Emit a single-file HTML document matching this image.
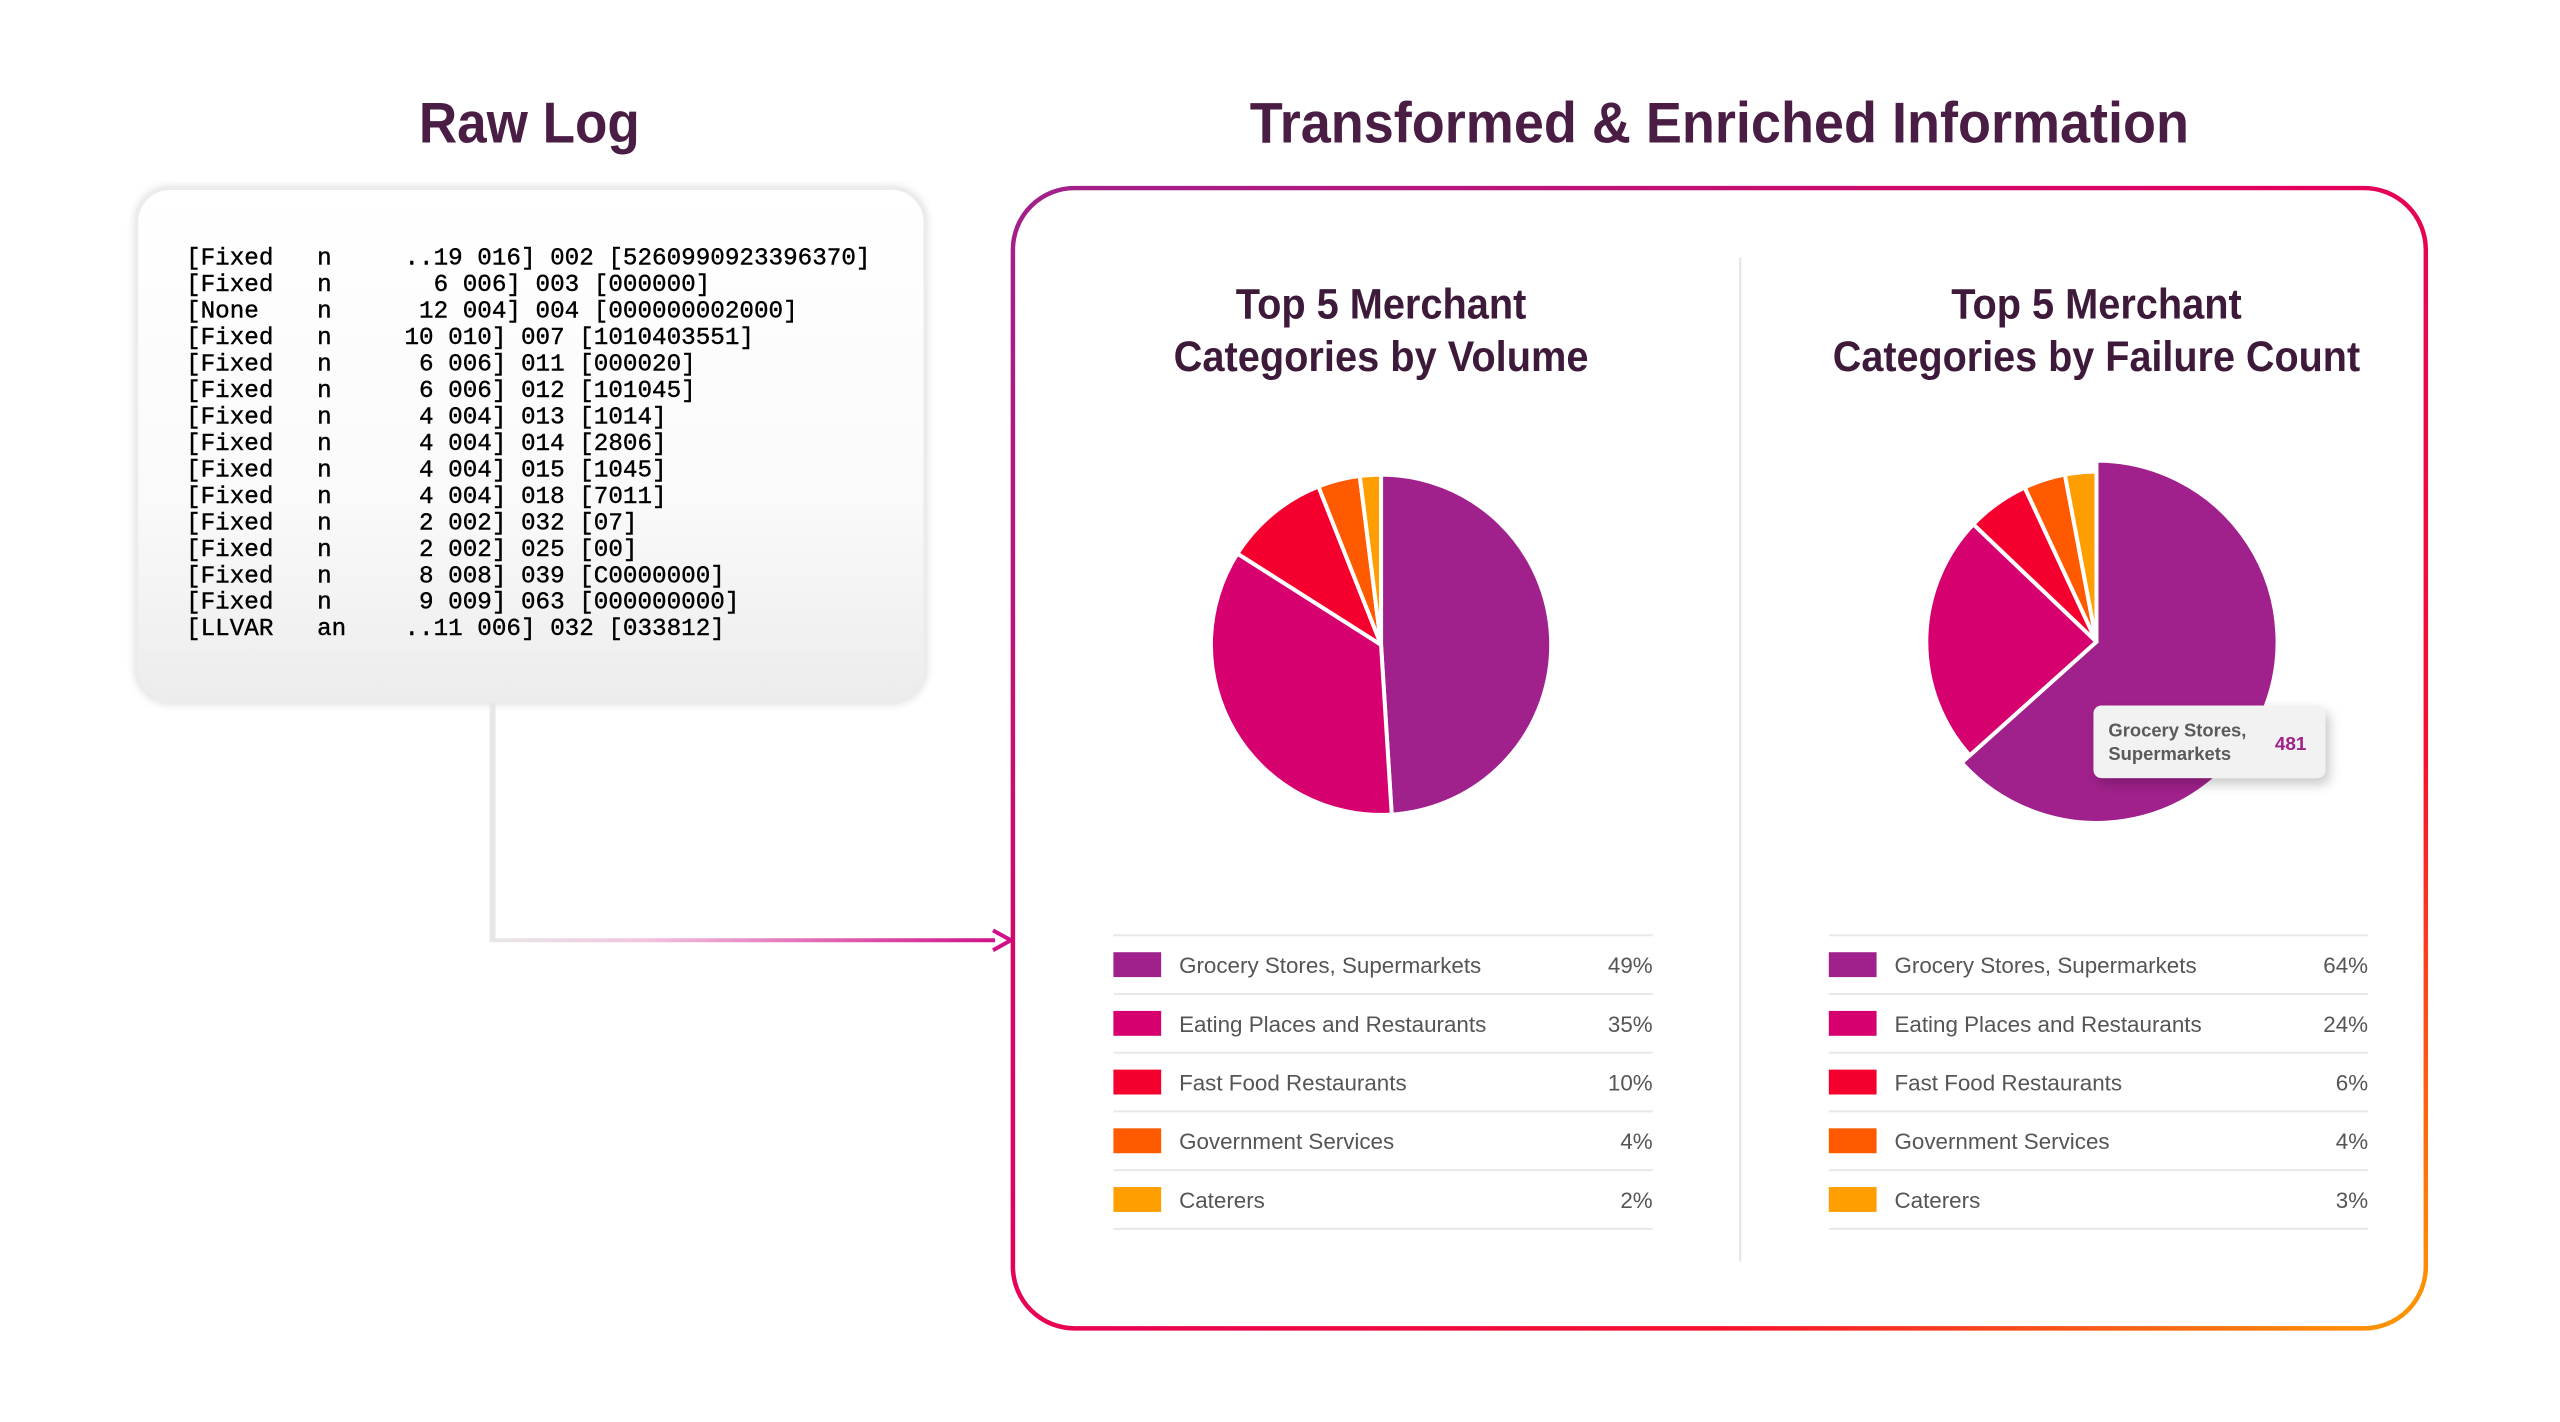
<!DOCTYPE html>
<html><head><meta charset="utf-8"><style>
html,body{margin:0;padding:0;background:#fff;width:2560px;height:1422px;overflow:hidden}
svg{display:block}
text{font-family:"Liberation Sans",sans-serif}
text.mono{font-family:"Liberation Mono",monospace}
</style></head><body>
<svg id="root" width="2560" height="1422" viewBox="0 0 2560 1422" xmlns="http://www.w3.org/2000/svg">
<defs>
<linearGradient id="boxGrad" x1="0" y1="0" x2="1" y2="1">
<stop offset="0" stop-color="#a0218c"/><stop offset="0.45" stop-color="#e3005e"/><stop offset="0.75" stop-color="#f5102e"/><stop offset="1" stop-color="#ff9a00"/>
</linearGradient>
<linearGradient id="logGrad" x1="0" y1="0" x2="0" y2="1">
<stop offset="0" stop-color="#ffffff"/><stop offset="0.6" stop-color="#fafafa"/><stop offset="1" stop-color="#ececec"/>
</linearGradient>
<linearGradient id="arrowGrad" x1="0" y1="0" x2="1" y2="0">
<stop offset="0" stop-color="#e8e8e8"/><stop offset="0.3" stop-color="#f2c4e0"/><stop offset="1" stop-color="#d0108a"/>
</linearGradient>
<filter id="shadow" x="-20%" y="-20%" width="150%" height="160%"><feDropShadow dx="4" dy="6" stdDeviation="6" flood-color="#000" flood-opacity="0.22"/></filter>
<filter id="soft" x="-5%" y="-5%" width="110%" height="110%"><feDropShadow dx="0" dy="0" stdDeviation="4" flood-color="#000" flood-opacity="0.12"/></filter>
</defs>
<g transform="scale(0.995)">
<text x="532" y="143" text-anchor="middle" font-size="58" font-weight="bold" fill="#4a1d45" textLength="222" lengthAdjust="spacingAndGlyphs">Raw Log</text>
<text x="1728" y="143" text-anchor="middle" font-size="58" font-weight="bold" fill="#4a1d45" textLength="944" lengthAdjust="spacingAndGlyphs">Transformed &amp; Enriched Information</text>

<rect x="137" y="189" width="793" height="517" rx="34" fill="url(#logGrad)" stroke="#ececec" stroke-width="4" filter="url(#soft)"/>
<g id="logLines" font-size="24.4" fill="#000" stroke="#000" stroke-width="0.4"></g>

<path d="M494 706 V945 H1000" fill="none" stroke="url(#arrowGrad)" stroke-width="4"/>
<path d="M496 706 V945" fill="none" stroke="#e6e6e6" stroke-width="4"/>
<path d="M998 935 L1016 945 L998 955" fill="none" stroke="#d0108a" stroke-width="4"/>

<rect x="1018" y="189" width="1420" height="1146" rx="62" fill="#fff" stroke="url(#boxGrad)" stroke-width="4.5"/>
<line x1="1749" y1="259" x2="1749" y2="1268" stroke="#e4e4e4" stroke-width="2"/>

<g id="chart1"></g>
<g id="chart2"></g>
</g>
</svg>
<script>
const categories = ["Grocery Stores, Supermarkets","Eating Places and Restaurants","Fast Food Restaurants","Government Services","Caterers"];
const volumeValues = [49,35,10,4,2];
const failureValues = [64,24,6,4,3];
const volumeLabels = ["49%","35%","10%","4%","2%"];
const failureLabels = ["64%","24%","6%","4%","3%"];
const tooltipValue = "481";
const colors = ["#a0218c","#d6006e","#f5002e","#ff5a00","#ff9e00"];
const logRows = [
"[Fixed   n     ..19 016] 002 [5260990923396370]",
"[Fixed   n       6 006] 003 [000000]",
"[None    n      12 004] 004 [000000002000]",
"[Fixed   n     10 010] 007 [1010403551]",
"[Fixed   n      6 006] 011 [000020]",
"[Fixed   n      6 006] 012 [101045]",
"[Fixed   n      4 004] 013 [1014]",
"[Fixed   n      4 004] 014 [2806]",
"[Fixed   n      4 004] 015 [1045]",
"[Fixed   n      4 004] 018 [7011]",
"[Fixed   n      2 002] 032 [07]",
"[Fixed   n      2 002] 025 [00]",
"[Fixed   n      8 008] 039 [C0000000]",
"[Fixed   n      9 009] 063 [000000000]",
"[LLVAR   an    ..11 006] 032 [033812]"];
const NS="http://www.w3.org/2000/svg";
function mk(tag,attrs,parent){const e=document.createElementNS(NS,tag);for(const k in attrs)e.setAttribute(k,attrs[k]);parent.appendChild(e);return e;}
const lg=document.getElementById('logLines');
logRows.forEach((r,i)=>{
  const t=mk('text',{x:187,y:266+i*26.6,'class':'mono'},lg);
  
  
  t.setAttribute('xml:space','preserve');t.style.whiteSpace='pre';t.textContent=r;
});
function drawChart(g,cx,titleY,values,labels,pieCx,pieCy,r,explodeR,legX){
  const t1=mk('text',{x:cx,y:titleY,'text-anchor':'middle','font-size':43,'font-weight':'bold',fill:'#3e1a3a',textLength:292,lengthAdjust:'spacingAndGlyphs'},g);
  
  
  t1.textContent="Top 5 Merchant";
  const line2 = explodeR ? "Categories by Failure Count" : "Categories by Volume";
  const t2=mk('text',{x:cx,y:titleY+53,'text-anchor':'middle','font-size':43,'font-weight':'bold',fill:'#3e1a3a',textLength:explodeR?530:417,lengthAdjust:'spacingAndGlyphs'},g);
  
  
  t2.textContent=line2;
  const total=values.reduce((a,b)=>a+b,0);
  let a0=0;
  values.forEach((v,i)=>{
    const a1=a0+v/total*Math.PI*2;
    const rr=(explodeR&&i===0)?explodeR:r;
    const x0=pieCx+rr*Math.sin(a0),y0=pieCy-rr*Math.cos(a0),x1=pieCx+rr*Math.sin(a1),y1=pieCy-rr*Math.cos(a1);
    const large=(a1-a0)>Math.PI?1:0;
    const p=mk('path',{d:`M${pieCx} ${pieCy} L${x0} ${y0} A${rr} ${rr} 0 ${large} 1 ${x1} ${y1} Z`,fill:colors[i],stroke:'#fff','stroke-width':4,'stroke-linejoin':'round'},g);
    
    
    a0=a1;
  });
  const rowH=59, top=940;
  mk('line',{x1:legX,y1:top,x2:legX+542,y2:top,stroke:'#e8e8e8','stroke-width':2},g);
  categories.forEach((c,i)=>{
    const y=top+i*rowH;
    const sw=mk('rect',{x:legX,y:y+17,width:48,height:25,fill:colors[i]},g);
    
    
    const lt=mk('text',{x:legX+66,y:y+38,'font-size':22.5,fill:'#555'},g);
    
    
    lt.textContent=c;
    const vt=mk('text',{x:legX+542,y:y+38,'font-size':22.5,fill:'#555','text-anchor':'end'},g);
    
    
    vt.textContent=labels[i];
    mk('line',{x1:legX,y1:y+rowH,x2:legX+542,y2:y+rowH,stroke:'#e8e8e8','stroke-width':2},g);
  });
}
drawChart(document.getElementById('chart1'),1388,320,volumeValues,volumeLabels,1388,648,171,0,1119);
const g2=document.getElementById('chart2');
drawChart(g2,2107,320,failureValues,failureLabels,2107,645,171,182,1838);
const tip=mk('g',{},g2);


mk('rect',{x:2104,y:709,width:233,height:73,rx:8,fill:'#f2f2f2',filter:'url(#shadow)'},tip);
const tl1=mk('text',{x:2119,y:740,'font-size':18.5,'font-weight':'bold',fill:'#5a5a5a'},tip);
tl1.textContent="Grocery Stores,";
const tl2=mk('text',{x:2119,y:764,'font-size':18.5,'font-weight':'bold',fill:'#5a5a5a'},tip);
tl2.textContent="Supermarkets";
const tv=mk('text',{x:2318,y:754,'font-size':19,'font-weight':'bold',fill:'#a0218c','text-anchor':'end'},tip);
tv.textContent=tooltipValue;
</script>
</body></html>
